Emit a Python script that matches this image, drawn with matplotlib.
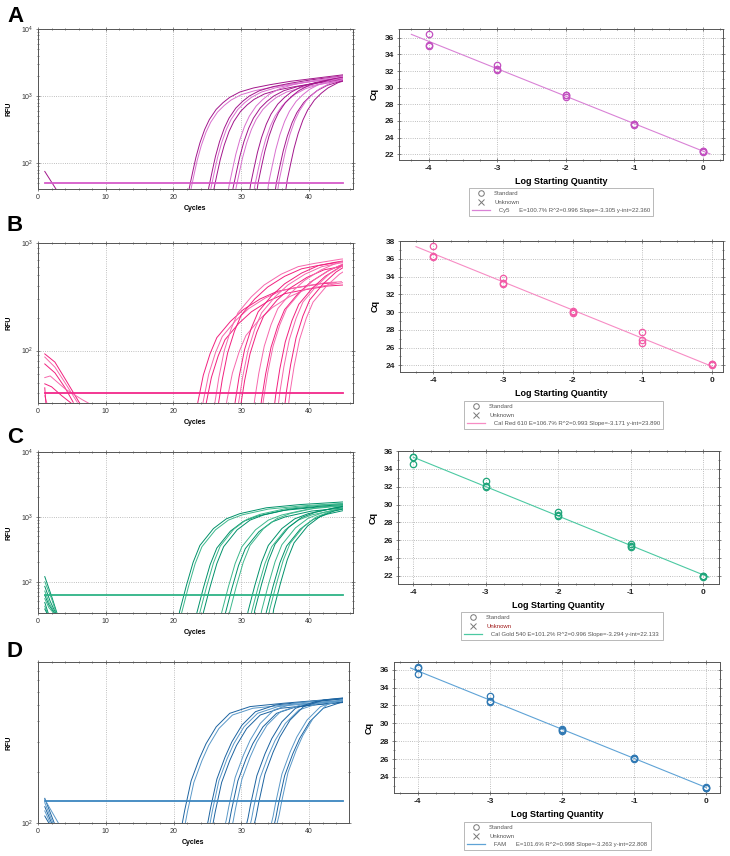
import matplotlib
matplotlib.use('Agg')
import matplotlib.pyplot as plt
import numpy as np
from matplotlib.lines import Line2D
from matplotlib.patches import Rectangle
from matplotlib.ticker import MultipleLocator, LogLocator, NullFormatter

plt.rcParams['font.family'] = ['Liberation Sans', 'DejaVu Sans']
plt.rcParams['axes.unicode_minus'] = False

W, H = 730, 856

# ---------------- shared ----------------
std_logq = [-4, -4, -4, -3, -3, -3, -2, -2, -2, -1, -1, -1, 0, 0, 0]

# ---------------- panel A : Cy5 ----------------
a_tmpl_off = [-0.6, 0, 0.5, 1.0, 1.6, 2.3, 3.0, 4.0, 5.0, 6.0, 7.5, 9.5, 12, 15, 19, 23]
a_tmpl_log = [1.2, 1.61, 1.85, 2.08, 2.30, 2.50, 2.65, 2.80, 2.90, 2.98, 3.06, 3.12, 3.17, 3.22, 3.27, 3.32]
a_cross = [22.3, 22.5, 25.2, 25.5, 25.9, 28.2, 28.8, 29.2, 31.4, 32.0, 32.5, 34.1, 35.2, 35.6, 36.8]
a_dlog = [0.0, -0.04, 0.02, 0.0, -0.03, 0.05, 0.02, 0.0, 0.08, 0.05, 0.1, 0.12, 0.1, 0.13, 0.14]
a_noise_x = [[1, 2, 3]]
a_noise_y = [[75, 52, 36]]
a_threshold = 51
a_cq = [36.4, 35.1, 35.0, 32.7, 32.2, 32.1, 29.1, 28.9, 29.1, 25.6, 25.5, 25.6, 22.4, 22.3, 22.4]
a_slope, a_yint = -3.305, 22.360
a_fit_x = [-4.25, 0.1]
a_label = "   Cy5      E=100.7% R^2=0.996 Slope=-3.305 y-int=22.360"

# ---------------- panel B : Cal Red 610 ----------------
b_tmpl_off = [-0.6, 0, 0.6, 1.4, 2.4, 3.4, 5.4, 7.3, 9.8, 12.3, 14.7, 18.6, 21]
b_tmpl_log = [1.2, 1.51, 1.75, 2.0, 2.2, 2.35, 2.5, 2.61, 2.71, 2.78, 2.81, 2.85, 2.86]
b_cross = [23.0, 23.8, 24.2, 26.1, 26.6, 27.3, 29.1, 29.6, 29.9, 32.0, 33.0, 33.3, 35.1, 35.7, 36.7, 37.2]
b_dlog = [-0.23, -0.22, -0.25, 0.0, -0.02, -0.21, 0.01, 0.0, -0.03, 0.04, 0.03, 0.04, 0.08, 0.1, 0.12, 0.1]
b_noise_x = [[1, 2.5, 4.2, 6.2], [1, 2.5, 4, 5.8], [1, 2.5, 4, 5.2], [1, 1.8, 4, 6.5, 8],
             [1, 2, 3.5, 5], [1, 1.4], [1, 1.2]]
b_noise_y = [[93, 78, 52, 32], [87, 70, 50, 33], [75, 62, 45, 33], [56, 58, 44, 35, 31],
             [49, 46, 38, 32], [38, 31], [45, 30]]
b_threshold = 40
b_cq = [37.4, 36.3, 36.2, 33.8, 33.3, 33.2, 30.1, 29.9, 30.0, 27.8, 26.8, 26.5, 24.1, 24.0, 24.1]
b_slope, b_yint = -3.171, 23.890
b_fit_x = [-4.25, 0.0]
b_label = "   Cal Red 610 E=106.7% R^2=0.993 Slope=-3.171 y-int=23.890"

# ---------------- panel C : Cal Gold 540 ----------------
c_tmpl_off = [-0.6, 0, 1.0, 2.0, 3.0, 5.0, 6.9, 8.9, 12.8, 17.8, 24.1]
c_tmpl_log = [1.1, 1.52, 1.92, 2.28, 2.54, 2.80, 2.95, 3.03, 3.12, 3.17, 3.21]
c_cross = [20.9, 21.2, 23.4, 23.9, 24.4, 27.1, 27.6, 28.3, 31.0, 31.5, 32.0, 33.0, 33.7, 34.2, 34.8]
c_dlog = [0.02, 0.0, -0.02, 0.01, 0.0, 0.0, -0.03, 0.02, 0.02, 0.0, 0.04, 0.03, 0.01, 0.05, 0.06]
c_noise_x = [[1, 2, 2.8], [1, 2, 2.7], [1, 1.8, 2.6], [1, 1.7, 2.5], [1, 1.6, 2.4],
             [1, 1.6, 2.3], [1, 1.5], [1, 1.4], [1, 1.3]]
c_noise_y = [[120, 60, 33], [100, 55, 33], [85, 50, 33], [72, 46, 33], [62, 44, 33],
             [55, 40, 33], [48, 33], [42, 33], [38, 33]]
c_threshold = 63
c_cq = [35.3, 34.5, 35.3, 32.6, 32.0, 32.1, 29.2, 28.7, 28.8, 25.6, 25.3, 25.4, 22.0, 21.9, 22.0]
c_slope, c_yint = -3.294, 22.133
c_fit_x = [-4.0, 0.08]
c_label = "   Cal Gold 540 E=101.2% R^2=0.996 Slope=-3.294 y-int=22.133"

# ---------------- panel D : FAM ----------------
d_tmpl_off = [-0.6, 0, 0.35, 1.3, 2.5, 3.5, 5.0, 7.0, 10, 15, 24]
d_tmpl_log = [1.9, 2.0, 2.075, 2.25, 2.38, 2.47, 2.57, 2.65, 2.69, 2.71, 2.74]
d_cross = [21.3, 21.7, 25.1, 25.4, 25.8, 27.8, 28.2, 28.8, 31.0, 31.5, 32.2, 34.7, 35.1, 35.6]
d_dlog = [0.0, -0.01, 0.01, 0.0, -0.01, 0.02, 0.0, 0.01, 0.03, 0.02, 0.04, 0.04, 0.03, 0.05]
d_noise_x = [[1, 2.4], [1, 2.2], [1, 2.0], [1, 1.8], [1, 1.6], [1, 3.0]]
d_noise_y = [[140, 100], [132, 100], [125, 100], [118, 100], [110, 100], [138, 100]]
d_threshold = 135
d_cq = [36.2, 36.3, 35.5, 33.0, 32.5, 32.4, 29.4, 29.1, 29.2, 26.1, 26.0, 26.1, 22.8, 22.8, 22.9]
d_slope, d_yint = -3.263, 22.808
d_fit_x = [-4.1, 0.0]
d_label = "   FAM      E=101.6% R^2=0.998 Slope=-3.263 y-int=22.808"

panels = [
    dict(letter='A', off=a_tmpl_off, log=a_tmpl_log, cross=a_cross, dlog=a_dlog,
         nx=a_noise_x, ny=a_noise_y, thr=a_threshold, cq=a_cq, slope=a_slope, yint=a_yint,
         fitx=a_fit_x, label=a_label, cols=['#a3168c', '#d970cf'], thr_col='#d65bc9',
         std_col='#c24fc0', fit_col='#d982d6', ylim=(41, 1e4), std_ylim=(21.3, 37.05),
         std_xlim=(-4.43, 0.29), amp_box=(38, 29, 353, 189), std_box=(399, 29, 723, 160),
         leg_box=(469, 188, 653, 216), amp_xmax=46.5, letter_y=22),
    dict(letter='B', off=b_tmpl_off, log=b_tmpl_log, cross=b_cross, dlog=b_dlog,
         nx=b_noise_x, ny=b_noise_y, thr=b_threshold, cq=b_cq, slope=b_slope, yint=b_yint,
         fitx=b_fit_x, label=b_label, cols=['#f2207f', '#f768ad'], thr_col='#f2288a',
         std_col='#f25aa6', fit_col='#f78cc4', ylim=(32.5, 1000), std_ylim=(23.25, 38),
         std_xlim=(-4.48, 0.16), amp_box=(38, 243, 353, 403), std_box=(400, 241, 723, 372),
         leg_box=(464, 401, 663, 427), amp_xmax=46.5, letter_y=231),
    dict(letter='C', off=c_tmpl_off, log=c_tmpl_log, cross=c_cross, dlog=c_dlog,
         nx=c_noise_x, ny=c_noise_y, thr=c_threshold, cq=c_cq, slope=c_slope, yint=c_yint,
         fitx=c_fit_x, label=c_label, cols=['#00916a', '#3db88c'], thr_col='#2db386',
         std_col='#1fa57a', fit_col='#4cc9a2', ylim=(33, 1e4), std_ylim=(21.1, 36),
         std_xlim=(-4.21, 0.22), amp_box=(38, 452, 353, 613), std_box=(398, 451, 719, 584),
         leg_box=(461, 612, 663, 640), amp_xmax=46.5, letter_y=443),
    dict(letter='D', off=d_tmpl_off, log=d_tmpl_log, cross=d_cross, dlog=d_dlog,
         nx=d_noise_x, ny=d_noise_y, thr=d_threshold, cq=d_cq, slope=d_slope, yint=d_yint,
         fitx=d_fit_x, label=d_label, cols=['#1c63a0', '#5a98c8'], thr_col='#3c86bf',
         std_col='#2f78b3', fit_col='#5fa3d6', ylim=(100, 900), std_ylim=(22.2, 36.86),
         std_xlim=(-4.33, 0.19), amp_box=(38, 662, 349, 823), std_box=(394, 662, 720, 793),
         leg_box=(464, 822, 651, 850), amp_xmax=45.9, letter_y=657),
]

fig = plt.figure(figsize=(W / 100, H / 100), dpi=100)


def px_axes(box):
    x0, y0, x1, y1 = box
    return fig.add_axes([x0 / W, 1 - y1 / H, (x1 - x0) / W, (y1 - y0) / H])


def style_spines(ax):
    for s in ax.spines.values():
        s.set_color('#555555')
        s.set_linewidth(0.7)
    ax.tick_params(which='both', direction='inout', top=True, right=True, color='#555555', width=0.5)
    ax.tick_params(which='major', length=3)
    ax.tick_params(which='minor', length=2)


for p in panels:
    # amplification plot
    ax = px_axes(p['amp_box'])
    ax.set_yscale('log')
    ylo, yhi = p['ylim']
    clip = Rectangle((1, ylo), 44, yhi - ylo, transform=ax.transData)
    for i, (c0, dl) in enumerate(zip(p['cross'], p['dlog'])):
        xs = c0 + np.array(p['off'])
        ys = 10 ** (np.array(p['log']) + dl)
        ln, = ax.plot(xs, ys, color=p['cols'][i % 2], lw=0.7)
        ln.set_clip_path(clip)
    for i, (nx, ny) in enumerate(zip(p['nx'], p['ny'])):
        ax.plot(nx, ny, color=p['cols'][i % 2], lw=0.7)
    ax.plot([1, 45], [p['thr'], p['thr']], color=p['thr_col'], lw=1.3)
    ax.set_xlim(0, p['amp_xmax'])
    ax.set_ylim(ylo, yhi)
    ax.xaxis.set_major_locator(MultipleLocator(10))
    ax.xaxis.set_minor_locator(MultipleLocator(2))
    ax.yaxis.set_major_locator(LogLocator(base=10))
    ax.yaxis.set_minor_locator(LogLocator(base=10, subs=np.arange(2, 10)))
    ax.yaxis.set_minor_formatter(NullFormatter())
    ax.grid(True, which='major', ls=':', color='#aaaaaa', lw=0.6)
    style_spines(ax)
    ax.tick_params(labelsize=5, labelcolor='#333333', pad=2)
    ax.set_xlabel('Cycles', fontsize=5, fontweight='bold', labelpad=3)
    ax.set_ylabel('RFU', fontsize=5, fontweight='bold', labelpad=6)
    fig.text(7 / W, 1 - p['letter_y'] / H, p['letter'], fontsize=16, fontweight='bold',
             va='baseline', ha='left')

    # standard curve
    sx = px_axes(p['std_box'])
    sx.plot(p['fitx'], [p['slope'] * v + p['yint'] for v in p['fitx']], color=p['fit_col'], lw=0.8)
    sx.plot(std_logq, p['cq'], 'o', mfc='none', mec=p['std_col'], ms=4.6, mew=0.9)
    sx.set_xlim(*p['std_xlim'])
    sx.set_ylim(*p['std_ylim'])
    sx.xaxis.set_major_locator(MultipleLocator(1))
    sx.xaxis.set_minor_locator(MultipleLocator(0.25))
    sx.yaxis.set_major_locator(MultipleLocator(2))
    sx.yaxis.set_minor_locator(MultipleLocator(1))
    sx.grid(True, which='major', ls=':', color='#aaaaaa', lw=0.6)
    style_spines(sx)
    sx.tick_params(labelsize=6, labelcolor='#222222', pad=2)
    for t in sx.get_xticklabels() + sx.get_yticklabels():
        t.set_fontweight('bold')
    sx.set_xlabel('Log Starting Quantity', fontsize=6.5, fontweight='bold', labelpad=4)
    sx.set_ylabel('Cq', fontsize=6.5, fontweight='bold', labelpad=4)

    handles = [Line2D([], [], marker='o', ls='none', mfc='none', mec='#777777', ms=4, mew=0.7),
               Line2D([], [], marker='x', ls='none', color='#777777', ms=4, mew=0.7),
               Line2D([], [], color=p['fit_col'], lw=0.9)]
    lx0, ly0, lx1, ly1 = p['leg_box']
    leg = fig.legend(handles, ['Standard', 'Unknown', p['label']], loc='upper left',
                     bbox_to_anchor=(lx0 / W, 1 - ly1 / H, (lx1 - lx0) / W, (ly1 - ly0) / H),
                     mode='expand', fontsize=4.3, frameon=True, fancybox=False,
                     edgecolor='#999999', borderpad=0.5, labelspacing=0.55,
                     handlelength=3.0, handletextpad=0.7, borderaxespad=0)
    leg.get_frame().set_linewidth(0.6)
    for i, t in enumerate(leg.get_texts()):
        t.set_color('#555555')
        if p['letter'] == 'C' and i == 1:
            t.set_color('#a01818')

fig.savefig('out.png', dpi=100)
